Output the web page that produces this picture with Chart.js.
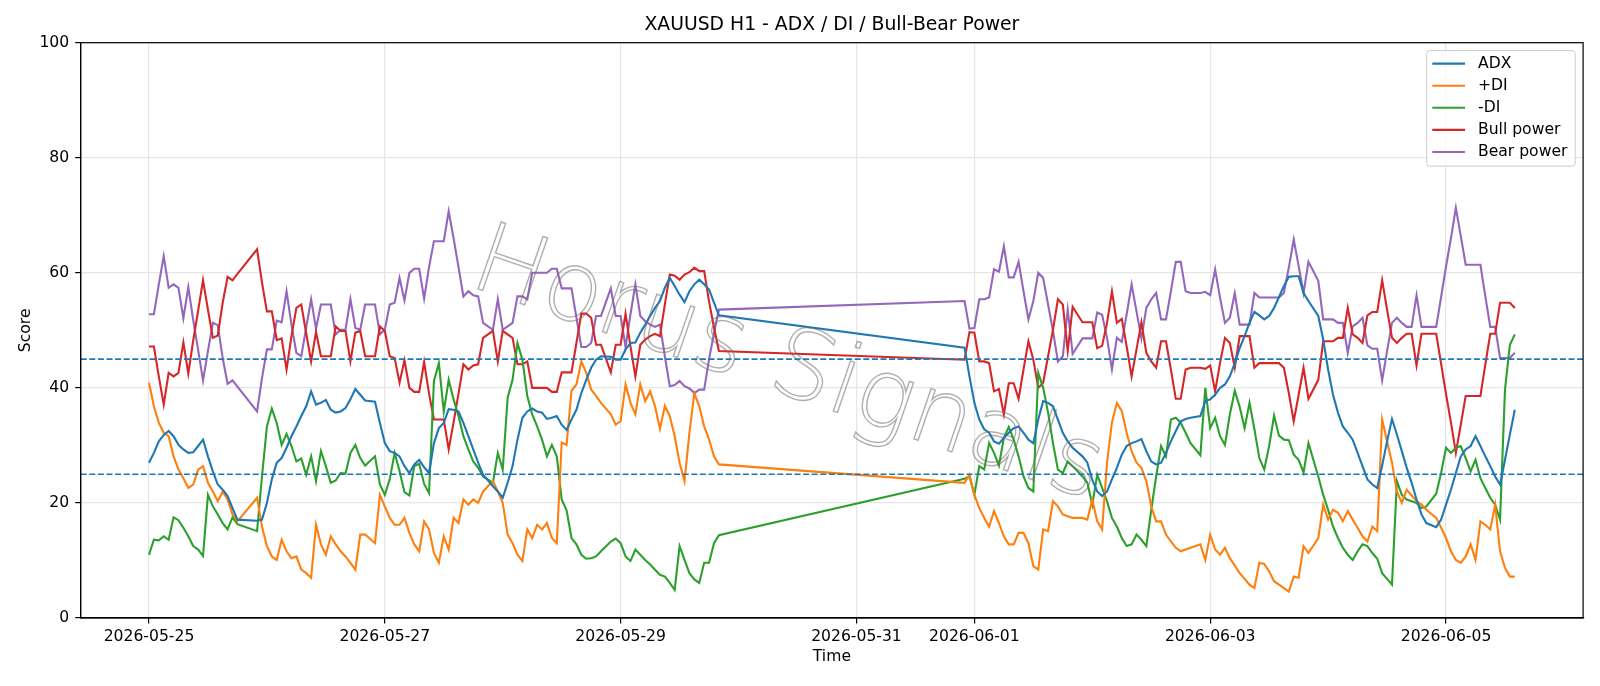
<!DOCTYPE html>
<html>
<head>
<meta charset="utf-8">
<script src="https://cdn.jsdelivr.net/npm/chart.js@4.4.1/dist/chart.umd.min.js"></script>
<style>
  html, body { margin: 0; padding: 0; background: #ffffff; }
  #wrap { width: 1600px; height: 686px; }
</style>
</head>
<body>
<div id="wrap"><canvas id="c" width="1600" height="686"></canvas></div>
<script>
// ---- data ----
const titleText = 'XAUUSD H1 - ADX / DI / Bull-Bear Power';
const xLabel = 'Time';
const yLabel = 'Score';
const watermarkText = 'Horus Signals';

// trading sessions, in hours since 2026-05-25 00:00 (hourly bars)
const sessions = [[0,18],[22,44],[46,68],[70,92],[94,116],[166,188],[190,212],[214,236],[238,260],[262,278]];

const tickHours = [0, 48, 96, 144, 168, 216, 264];
const tickLabels = ['2026-05-25','2026-05-27','2026-05-29','2026-05-31','2026-06-01','2026-06-03','2026-06-05'];
const yTicks = [0, 20, 40, 60, 80, 100];
const thresholds = [25, 45];

const seriesNames = ['ADX', '+DI', '-DI', 'Bull power', 'Bear power'];

const adx = [
  27.0,28.7,30.7,31.8,32.5,31.6,30.1,29.3,28.7,28.8,29.9,31.0,28.1,25.5,23.2,22.3,21.2,19.1,17.1,
  16.9,17.1,20.0,24.1,27.0,27.8,29.6,31.6,33.3,35.1,36.8,39.4,37.1,37.4,37.9,36.2,35.7,35.9,36.5,38.0,39.8,38.8,37.8,
  37.6,33.9,30.4,29.0,28.7,28.1,26.4,25.2,26.7,27.5,26.2,25.2,30.4,33.0,33.9,36.3,36.2,35.9,33.9,31.6,29.3,27.0,24.9,
  22.9,22.0,20.9,23.5,26.4,31.0,34.8,35.9,36.4,35.9,35.7,34.6,34.8,35.1,33.6,32.7,34.5,36.2,39.1,41.4,43.5,44.9,45.5,
  45.4,44.9,44.9,46.7,47.8,47.9,49.6,51.0,52.5,53.9,55.1,57.4,59.1,57.7,56.2,54.9,56.8,58.0,58.8,58.0,57.1,54.8,52.6,
  47.0,42.0,37.4,34.5,32.8,32.2,30.7,30.3,31.3,32.2,33.0,33.3,32.2,31.0,30.4,34.5,37.7,37.4,36.8,34.5,32.2,30.7,29.6,
  28.1,27.0,24.0,22.0,21.2,22.0,24.1,26.1,28.4,29.9,30.4,30.7,31.1,29.0,27.2,26.7,27.0,28.7,30.7,32.5,34.2,34.6,34.8,
  35.1,37.7,38.0,38.8,40.0,40.6,42.0,44.3,46.9,49.0,51.3,53.2,52.6,51.9,52.5,53.9,55.8,57.7,59.3,59.4,59.4,56.5,55.1,
  52.5,48.4,43.2,38.8,35.7,33.3,32.2,31.0,28.7,26.4,24.1,23.2,22.6,26.5,30.7,34.6,31.9,29.0,26.1,23.5,20.6,18.0,16.5,
  15.8,17.1,19.7,22.3,25.2,28.1,29.3,29.9,31.6,29.9,28.1,26.4,24.6,23.2,27.5,31.9,36.2
];
const plusDI = [
  40.9,36.8,33.9,32.2,31.6,28.1,25.8,24.3,22.6,23.2,25.8,26.4,23.5,22.0,20.3,22.0,20.6,18.0,16.8,
  20.9,15.9,12.5,10.7,10.1,13.6,11.6,10.4,10.7,8.4,7.8,7.0,16.2,12.8,11.0,14.2,12.8,11.6,10.7,9.6,8.4,14.5,14.5,
  13.0,21.4,19.4,17.4,16.2,16.2,17.4,14.8,12.8,11.6,16.8,15.4,11.3,9.6,14.2,11.9,17.4,16.5,20.6,19.7,20.6,20.0,22.0,
  23.8,22.0,20.0,14.5,13.0,11.0,9.9,15.4,13.9,16.2,15.4,16.5,13.9,13.0,30.5,30.1,39.5,40.6,44.6,42.6,39.7,38.6,37.4,
  35.4,33.6,34.2,40.6,37.4,35.4,40.6,37.7,39.4,36.8,32.9,36.9,35.1,31.6,27.0,23.8,32.2,39.1,36.8,33.3,31.0,28.1,26.7,
  23.5,24.9,21.4,19.1,17.4,15.9,18.6,16.5,14.2,12.8,12.8,14.8,14.8,13.0,9.0,8.4,15.4,15.1,20.3,19.4,18.0,17.7,17.4,
  17.4,17.1,20.6,16.8,15.4,27.0,34.0,37.4,36.0,32.2,29.0,27.0,26.1,23.8,19.4,16.8,16.8,14.5,13.3,12.2,11.6,11.9,12.2,
  12.8,10.1,14.5,11.9,11.0,12.2,10.4,9.1,7.8,6.8,5.8,5.2,9.6,9.4,8.1,6.4,5.8,5.2,4.6,7.2,7.0,12.5,11.3,
  13.9,19.7,17.1,18.8,18.3,16.8,18.6,17.1,15.7,14.2,13.3,15.9,15.1,34.5,30.7,27.0,22.0,20.0,22.3,21.3,20.3,19.7,18.8,
  17.4,15.7,13.9,11.6,10.1,9.6,10.7,12.8,10.1,16.8,16.2,15.4,19.7,11.6,8.7,7.2,7.2
];
const minusDI = [
  11.0,13.6,13.5,14.2,13.6,17.5,17.0,15.7,14.2,12.5,11.9,10.8,21.4,19.4,18.0,16.5,15.4,17.5,16.3,
  15.1,24.6,33.3,36.4,33.9,30.1,32.0,29.9,27.2,27.7,24.9,28.1,23.8,29.0,26.4,23.5,23.9,25.2,25.1,28.7,30.1,27.8,26.5,
  28.1,23.2,21.4,24.1,28.7,25.5,21.9,21.3,26.4,26.8,23.3,21.7,41.2,44.3,35.9,41.4,38.0,35.1,31.6,29.3,27.2,26.1,24.6,
  23.5,28.7,25.8,38.3,41.4,47.8,44.9,38.6,35.4,33.3,31.0,28.1,30.1,28.1,20.6,18.7,13.9,12.8,11.0,10.3,10.4,10.7,11.6,
  13.3,13.8,13.0,10.7,9.9,11.9,11.0,10.1,9.3,8.4,7.5,7.2,6.1,4.9,12.5,10.1,7.8,6.7,6.1,9.6,9.6,13.0,14.4,
  24.2,24.6,21.4,26.4,25.8,30.4,28.7,26.5,31.3,33.2,31.0,28.1,24.6,22.6,22.0,42.6,40.0,35.7,30.4,25.8,25.2,27.2,26.4,
  24.6,23.5,19.7,24.9,22.6,20.3,17.4,15.9,13.9,12.5,12.8,14.5,13.6,12.5,18.8,24.6,29.9,28.1,34.5,34.8,33.9,32.2,30.4,
  28.3,40.0,33.0,34.8,31.6,30.1,35.4,39.5,36.7,33.0,37.4,32.8,27.8,25.8,29.9,35.2,31.7,31.0,30.9,28.4,27.5,25.3,30.4,
  24.6,21.4,18.8,15.9,13.9,12.2,11.0,10.1,11.6,12.8,12.5,11.3,10.3,7.8,6.8,5.8,23.8,21.4,20.6,20.3,20.0,19.1,19.4,
  21.6,25.2,29.6,28.7,29.6,29.9,27.8,25.5,27.5,24.3,22.6,20.9,19.7,17.1,39.7,47.5,49.3
];
const bullPower = [
  47.2,47.2,42.0,37.1,42.6,42.0,42.6,47.9,42.5,48.2,53.4,58.7,53.6,48.7,49.1,54.8,59.3,58.7,59.8,
  64.1,58.3,53.3,53.3,48.3,48.6,43.2,49.0,53.9,54.5,49.5,44.6,49.7,45.5,45.5,45.5,50.7,49.9,49.9,44.6,49.6,49.9,45.5,
  45.5,50.7,49.9,45.5,45.2,40.9,44.8,40.0,39.3,39.3,44.5,39.0,34.5,34.5,34.5,29.3,34.0,39.0,44.1,43.2,43.9,44.1,48.7,
  49.9,44.6,49.9,49.3,48.7,44.1,44.1,44.6,40.0,40.0,40.0,40.0,39.3,39.3,42.7,42.7,42.7,47.8,52.9,52.9,52.2,47.5,47.5,
  42.7,47.5,47.5,52.9,47.2,42.0,47.5,48.4,49.0,49.4,49.0,54.5,59.7,59.5,58.8,59.7,60.1,60.9,60.3,60.3,55.0,50.5,46.4,
  44.9,49.7,49.6,44.6,44.6,44.3,39.4,39.8,35.4,40.8,40.8,38.1,43.2,48.1,44.9,40.0,40.9,45.5,50.1,55.4,54.5,46.4,54.1,
  51.4,51.4,51.4,46.9,47.3,51.3,56.8,51.3,52.0,47.2,42.0,46.7,51.4,46.1,44.6,43.5,48.1,48.1,43.2,38.1,38.1,43.2,43.5,
  43.5,43.3,43.9,39.4,44.3,48.7,47.8,43.5,49.0,49.0,49.0,43.5,44.3,44.3,44.3,44.3,44.3,43.5,39.1,34.2,38.8,43.5,38.1,
  41.4,48.1,48.1,48.1,48.7,48.7,53.9,49.3,48.7,47.8,52.6,53.2,53.2,58.7,53.6,48.7,47.8,48.7,49.4,49.4,43.9,49.4,49.4,
  49.4,44.2,38.9,34.0,28.7,33.6,38.6,38.6,38.6,38.6,44.1,49.4,49.4,54.8,54.8,54.8,53.9
];
const bearPower = [
  52.8,52.8,58.0,62.9,57.4,58.0,57.4,52.1,57.5,51.8,46.6,41.3,46.4,51.3,50.9,45.2,40.7,41.3,40.2,
  35.9,41.7,46.7,46.7,51.7,51.4,56.8,51.0,46.1,45.5,50.5,55.4,50.3,54.5,54.5,54.5,49.3,50.1,50.1,55.4,50.4,50.1,54.5,
  54.5,49.3,50.1,54.5,54.8,59.1,55.2,60.0,60.7,60.7,55.5,61.0,65.5,65.5,65.5,70.7,66.0,61.0,55.9,56.8,56.1,55.9,51.3,
  50.1,55.4,50.1,50.7,51.3,55.9,55.9,55.4,60.0,60.0,60.0,60.0,60.7,60.7,57.3,57.3,57.3,52.2,47.1,47.1,47.8,52.5,52.5,
  57.3,52.5,52.5,47.1,52.8,58.0,52.5,51.6,51.0,50.6,51.0,45.5,40.3,40.5,41.2,40.3,39.9,39.1,39.7,39.7,45.0,49.5,53.6,
  55.1,50.3,50.4,55.4,55.4,55.7,60.6,60.2,64.6,59.2,59.2,61.9,56.8,51.9,55.1,60.0,59.1,54.5,49.9,44.6,45.5,53.6,45.9,
  48.6,48.6,48.6,53.1,52.7,48.7,43.2,48.7,48.0,52.8,58.0,53.3,48.6,53.9,55.4,56.5,51.9,51.9,56.8,61.9,61.9,56.8,56.5,
  56.5,56.7,56.1,60.6,55.7,51.3,52.2,56.5,51.0,51.0,51.0,56.5,55.7,55.7,55.7,55.7,55.7,56.5,60.9,65.8,61.2,56.5,61.9,
  58.6,51.9,51.9,51.9,51.3,51.3,46.1,50.7,51.3,52.2,47.4,46.8,46.8,41.3,46.4,51.3,52.2,51.3,50.6,50.6,56.1,50.6,50.6,
  50.6,55.8,61.1,66.0,71.3,66.4,61.4,61.4,61.4,61.4,55.9,50.6,50.6,45.2,45.2,45.2,46.1
];

// ---- build ----
const hours = [];
sessions.forEach(([a, b]) => { for (let h = a; h <= b; h++) hours.push(h); });

const colors = ['#1f77b4', '#ff7f0e', '#2ca02c', '#d62728', '#9467bd'];
const seriesValues = [adx, plusDI, minusDI, bullPower, bearPower];

const span = hours[hours.length - 1] - hours[0];
const xMin = hours[0] - 0.05 * span;
const xMax = hours[hours.length - 1] + 0.05 * span;

const FONT = '"DejaVu Sans", "Liberation Sans", sans-serif';
const TICK_PX = 15.6;

const datasets = seriesNames.map((name, k) => ({
  label: name,
  data: hours.map((h, i) => ({ x: h, y: seriesValues[k][i] })),
  borderColor: colors[k],
  backgroundColor: colors[k],
  borderWidth: 2.1,
  pointRadius: 0,
  tension: 0,
  fill: false
}));

const decor = {
  id: 'decor',
  afterDatasetsDraw(chart) {
    const { ctx, chartArea: a, scales } = chart;
    // watermark
    ctx.save();
    ctx.translate(467, 285);
    ctx.rotate(19 * Math.PI / 180);
    ctx.font = '200 97px "DejaVu Sans", sans-serif';
    ctx.textAlign = 'left';
    ctx.textBaseline = 'alphabetic';
    ctx.strokeStyle = 'rgba(110,110,110,0.55)';
    ctx.lineWidth = 1.4;
    ctx.strokeText(watermarkText, 0, 0);
    ctx.restore();

    // threshold lines
    ctx.save();
    ctx.beginPath();
    ctx.rect(a.left, a.top, a.right - a.left, a.bottom - a.top);
    ctx.clip();
    ctx.strokeStyle = '#1f77b4';
    ctx.lineWidth = 1.6;
    ctx.setLineDash([6, 2.6]);
    thresholds.forEach(v => {
      const y = scales.y.getPixelForValue(v);
      ctx.beginPath();
      ctx.moveTo(a.left, y);
      ctx.lineTo(a.right, y);
      ctx.stroke();
    });
    ctx.restore();
  },
  afterDraw(chart) {
    const { ctx, chartArea: a } = chart;
    ctx.save();
    // spines
    ctx.strokeStyle = '#000000';
    ctx.lineWidth = 1.2;
    ctx.strokeRect(a.left, a.top, a.right - a.left, a.bottom - a.top);

    // title and axis labels
    ctx.fillStyle = '#000000';
    ctx.textAlign = 'center';
    ctx.textBaseline = 'middle';
    ctx.font = '18.8px ' + FONT;
    const cx = (a.left + a.right) / 2;
    ctx.fillText(titleText, cx, 25.5);
    ctx.font = TICK_PX + 'px ' + FONT;
    ctx.fillText(xLabel, cx, 656.5);
    ctx.save();
    ctx.translate(25.5, (a.top + a.bottom) / 2);
    ctx.rotate(-Math.PI / 2);
    ctx.fillText(yLabel, 0, 0);
    ctx.restore();

    // legend
    const bx = 1426.7, by = 50.6, bw = 148.5, bh = 115.5;
    ctx.beginPath();
    ctx.roundRect(bx, by, bw, bh, 3);
    ctx.fillStyle = 'rgba(255,255,255,0.8)';
    ctx.fill();
    ctx.strokeStyle = '#cccccc';
    ctx.lineWidth = 1;
    ctx.stroke();
    ctx.textAlign = 'left';
    ctx.textBaseline = 'middle';
    ctx.font = TICK_PX + 'px ' + FONT;
    seriesNames.forEach((name, k) => {
      const y = 63.6 + k * 22.1;
      ctx.strokeStyle = colors[k];
      ctx.lineWidth = 2.1;
      ctx.beginPath();
      ctx.moveTo(1432.3, y);
      ctx.lineTo(1465, y);
      ctx.stroke();
      ctx.fillStyle = '#000000';
      ctx.fillText(name, 1478, y);
    });
    ctx.restore();
  }
};

new Chart(document.getElementById('c'), {
  type: 'line',
  data: { datasets },
  options: {
    responsive: false,
    devicePixelRatio: 1,
    animation: false,
    layout: { padding: { left: 0, right: 16.9, top: 42.7, bottom: 0 } },
    plugins: {
      legend: { display: false },
      title: { display: false },
      tooltip: { enabled: false }
    },
    scales: {
      x: {
        type: 'linear',
        min: xMin,
        max: xMax,
        afterFit(scale) { scale.height = 68; },
        afterBuildTicks(scale) { scale.ticks = tickHours.map(v => ({ value: v })); },
        ticks: {
          autoSkip: false,
          maxRotation: 0,
          minRotation: 0,
          padding: 4,
          color: '#000000',
          font: { family: FONT, size: TICK_PX },
          callback(value) {
            const i = tickHours.indexOf(value);
            return i >= 0 ? tickLabels[i] : '';
          }
        },
        grid: {
          color: '#e6e6e6',
          lineWidth: 1.2,
          drawTicks: true,
          tickLength: 5.5,
          tickColor: '#000000',
          tickWidth: 1.2
        },
        border: { display: true, color: '#000000', width: 1.2 }
      },
      y: {
        type: 'linear',
        min: 0,
        max: 100,
        afterFit(scale) { scale.width = 80.7; },
        afterBuildTicks(scale) { scale.ticks = yTicks.map(v => ({ value: v })); },
        ticks: {
          padding: 6,
          color: '#000000',
          font: { family: FONT, size: TICK_PX }
        },
        grid: {
          color: '#e6e6e6',
          lineWidth: 1.2,
          drawTicks: true,
          tickLength: 5.5,
          tickColor: '#000000',
          tickWidth: 1.2
        },
        border: { display: true, color: '#000000', width: 1.2 }
      }
    }
  },
  plugins: [decor]
});
</script>
</body>
</html>
